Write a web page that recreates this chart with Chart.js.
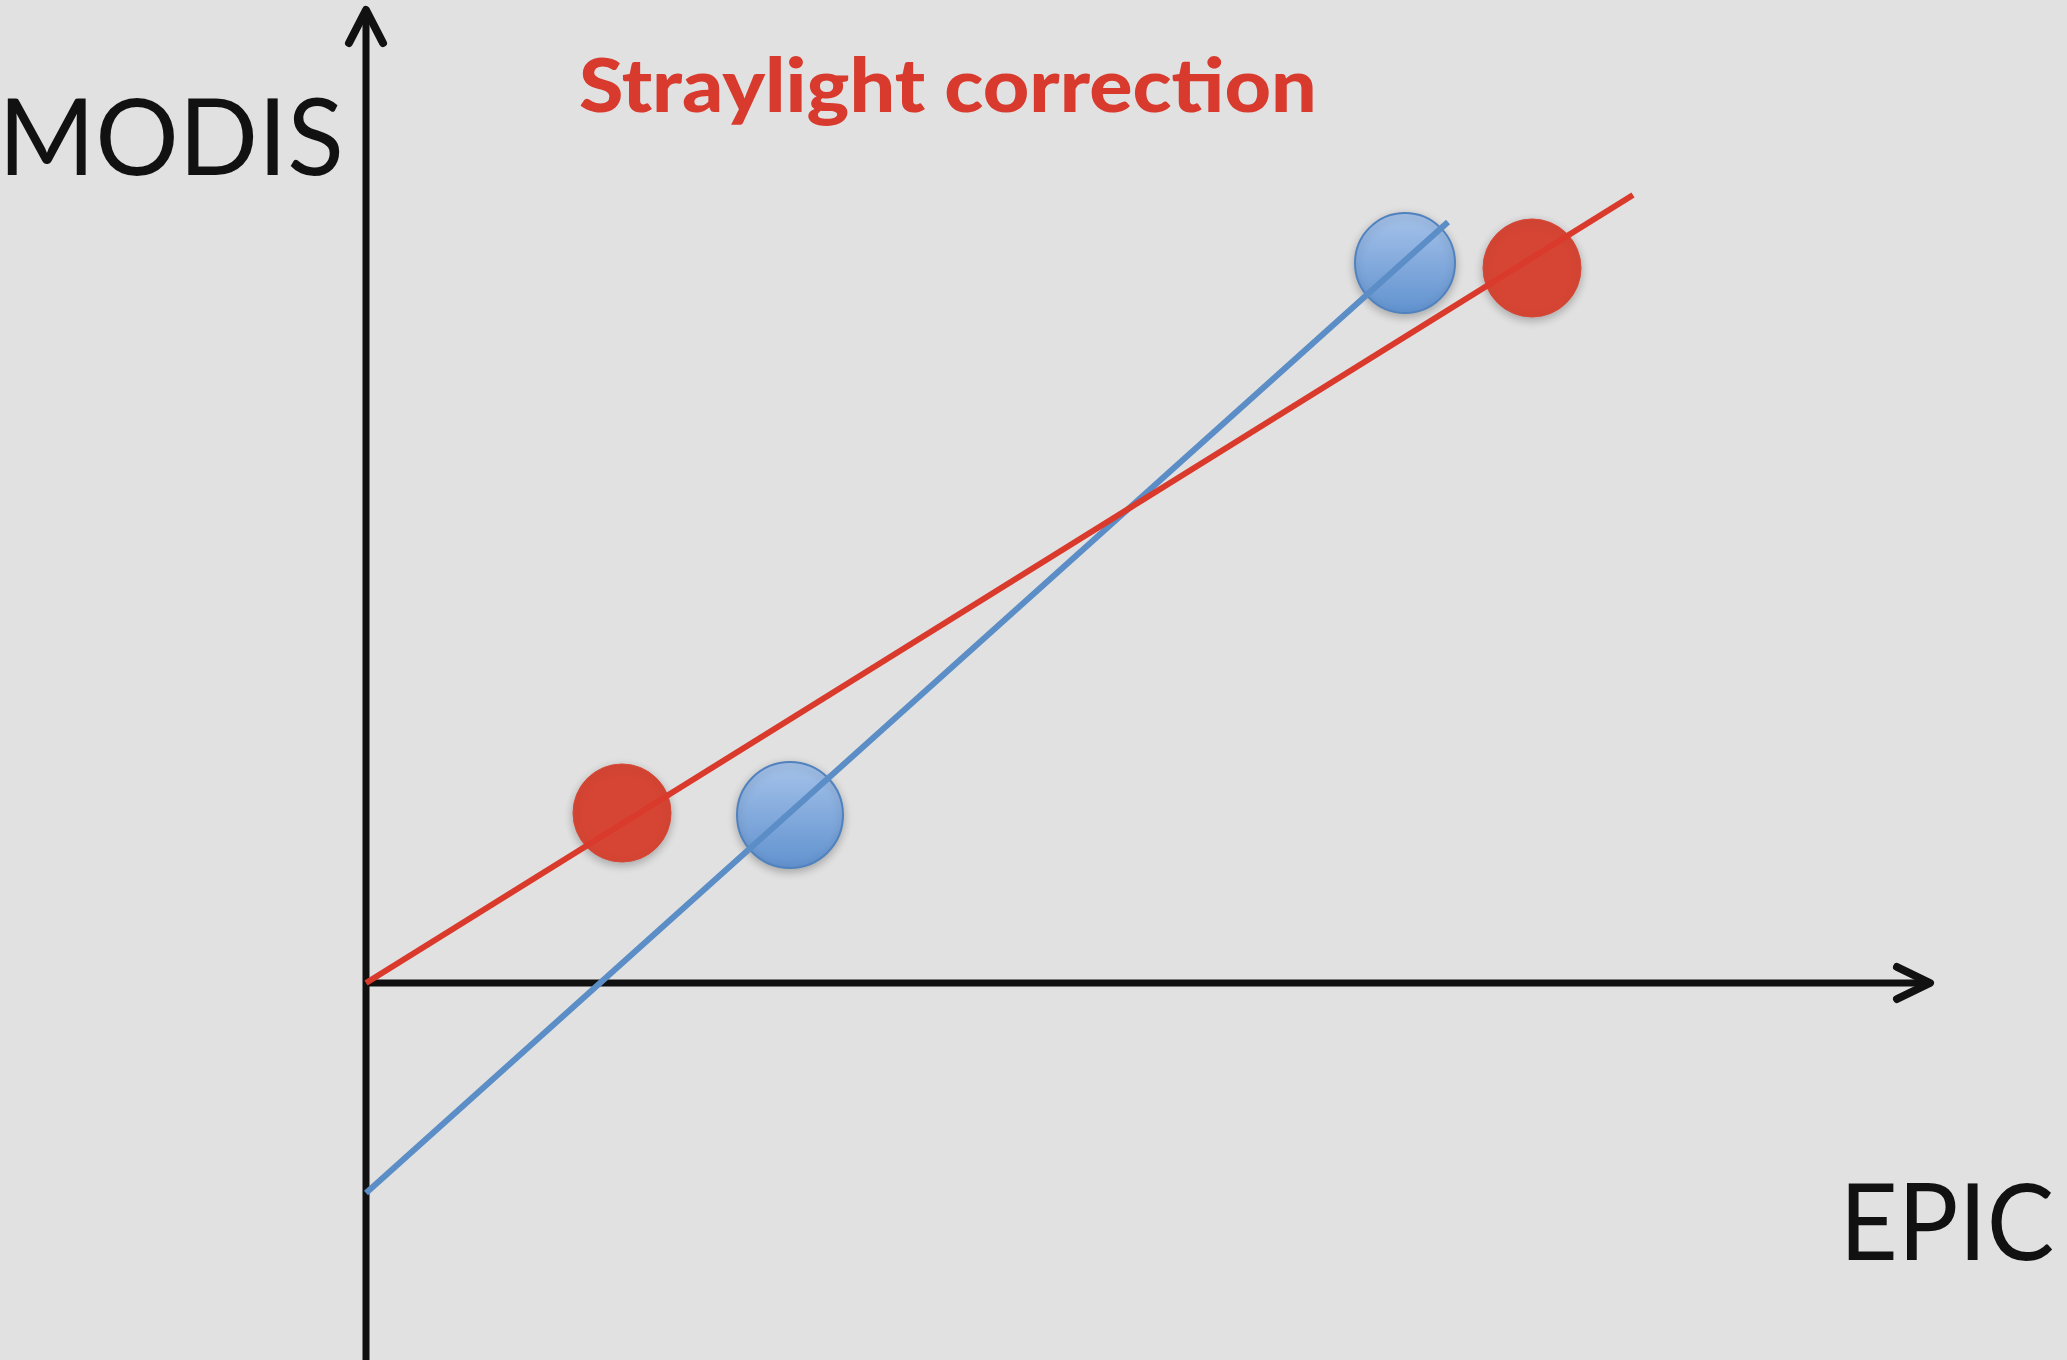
<!DOCTYPE html>
<html>
<head>
<meta charset="utf-8">
<title>Straylight correction</title>
<script src="https://cdn.jsdelivr.net/npm/chart.js@4.4.1/dist/chart.umd.min.js"></script>
<style>
  html, body { margin: 0; padding: 0; background: #e1e1e1; }
  #wrap { position: relative; width: 2067px; height: 1360px; }
</style>
</head>
<body>
<div id="wrap"><canvas id="chart"></canvas></div>
<script>
// ---- data (EPIC on x, MODIS on y, arbitrary units) ----
const redEpic = [2.56, 11.66];
const redModis = [1.70, 7.15];
const blueEpic = [4.24, 10.39];
const blueModis = [1.68, 7.20];

// fitted lines, two end points each
const redFitEpic = [0.0, 12.67];
const redFitModis = [0.0, 7.88];
const blueFitEpic = [0.0, 10.82];
const blueFitModis = [-2.10, 7.61];

// axis arrows end here
const xAxisEnd = 15.64;
const yAxisEnd = 9.73;

const titleText = 'Straylight correction';
const xLabel = 'EPIC';
const yLabel = 'MODIS';

const RED = '#da3a2c';
const RED_DOT = '#d64533';
const BLUE = '#5b8dc6';
const blueRadius = [53, 50];

const pts = (xs, ys) => xs.map((x, i) => ({ x, y: ys[i] }));

function blueFill(c) {
  if (c.type !== 'data' || !c.parsed) return '#82a8db';
  const yS = c.chart.scales.y;
  if (!yS || yS.top === undefined) return '#82a8db';
  const py = yS.getPixelForValue(c.parsed.y);
  const r = blueRadius[c.dataIndex] || 50;
  const g = c.chart.ctx.createLinearGradient(0, py - r, 0, py + r);
  g.addColorStop(0, '#a6c3ea');
  g.addColorStop(1, '#6192cf');
  return g;
}

// ---- arrows for the two axes, drawn at value 0 ----
const axesPlugin = {
  id: 'axes',
  beforeDatasetsDraw(chart) {
    const { ctx, scales: { x, y }, chartArea } = chart;
    const x0 = x.getPixelForValue(0);
    const y0 = y.getPixelForValue(0);
    const xt = x.getPixelForValue(xAxisEnd);
    const yt = y.getPixelForValue(yAxisEnd);
    ctx.save();
    ctx.strokeStyle = '#111';
    ctx.lineWidth = 7;
    ctx.lineCap = 'butt';
    ctx.beginPath();
    ctx.moveTo(x0, chartArea.bottom);
    ctx.lineTo(x0, yt + 2);
    ctx.moveTo(x0, y0);
    ctx.lineTo(xt - 2, y0);
    ctx.stroke();
    ctx.lineWidth = 8;
    ctx.lineCap = 'round';
    ctx.lineJoin = 'round';
    ctx.beginPath();
    ctx.moveTo(x0 - 17, yt + 33);
    ctx.lineTo(x0, yt);
    ctx.lineTo(x0 + 17, yt + 33);
    ctx.moveTo(xt - 33, y0 - 16);
    ctx.lineTo(xt, y0);
    ctx.lineTo(xt - 33, y0 + 16);
    ctx.stroke();
    ctx.restore();
  },
  beforeDatasetDraw(chart, args) {
    if (args.meta._dataset.showLine) return;
    const ctx = chart.ctx;
    ctx.save();
    ctx.shadowColor = 'rgba(0,0,0,0.25)';
    ctx.shadowBlur = 8;
    ctx.shadowOffsetY = 3;
  },
  afterDatasetDraw(chart, args) {
    if (args.meta._dataset.showLine) return;
    chart.ctx.restore();
  },
};

// ---- labels, fitted to the widths in the original ----
function drawFitted(ctx, text, font, color, left, baseline, width) {
  ctx.save();
  ctx.font = font;
  ctx.fillStyle = color;
  ctx.textBaseline = 'alphabetic';
  const m = ctx.measureText(text);
  const ink = m.actualBoundingBoxLeft + m.actualBoundingBoxRight;
  const sx = ink > 0 ? width / ink : 1;
  ctx.translate(left + m.actualBoundingBoxLeft * sx, baseline);
  ctx.scale(sx, 1);
  ctx.fillText(text, 0, 0);
  ctx.restore();
}

const labelsPlugin = {
  id: 'labels',
  beforeDraw(chart) {
    const ctx = chart.ctx;
    ctx.save();
    ctx.fillStyle = '#e1e1e1';
    ctx.fillRect(0, 0, chart.width, chart.height);
    ctx.restore();
  },
  afterDraw(chart) {
    const ctx = chart.ctx;
    drawFitted(ctx, titleText, '900 75px Lato', '#d83a2d', 580, 112, 733);
    drawFitted(ctx, yLabel, '107px Lato', '#111', 7, 175, 333);
    drawFitted(ctx, xLabel, '107px Lato', '#111', 1848, 1260, 205);
  },
};

new Chart(document.getElementById('chart'), {
  type: 'scatter',
  data: {
    datasets: [
      { data: pts(redFitEpic, redFitModis), showLine: true, borderColor: RED, borderWidth: 6, pointRadius: 0, clip: false },
      { data: pts(blueFitEpic, blueFitModis), showLine: true, borderColor: BLUE, borderWidth: 6, pointRadius: 0, clip: false },
      { data: pts(redEpic, redModis), backgroundColor: RED_DOT, borderColor: '#d84836', borderWidth: 1, pointRadius: 49 },
      { data: pts(blueEpic, blueModis), backgroundColor: blueFill, borderColor: '#5082bf', borderWidth: 2, pointRadius: blueRadius },
    ],
  },
  options: {
    responsive: true,
    maintainAspectRatio: false,
    animation: false,
    layout: { padding: 0, autoPadding: false },
    plugins: { legend: { display: false }, tooltip: { enabled: false } },
    scales: {
      x: { type: 'linear', display: false, min: -3.66, max: 17.01 },
      y: { type: 'linear', display: false, min: -3.77, max: 9.83 },
    },
  },
  plugins: [axesPlugin, labelsPlugin],
});
</script>
</body>
</html>
